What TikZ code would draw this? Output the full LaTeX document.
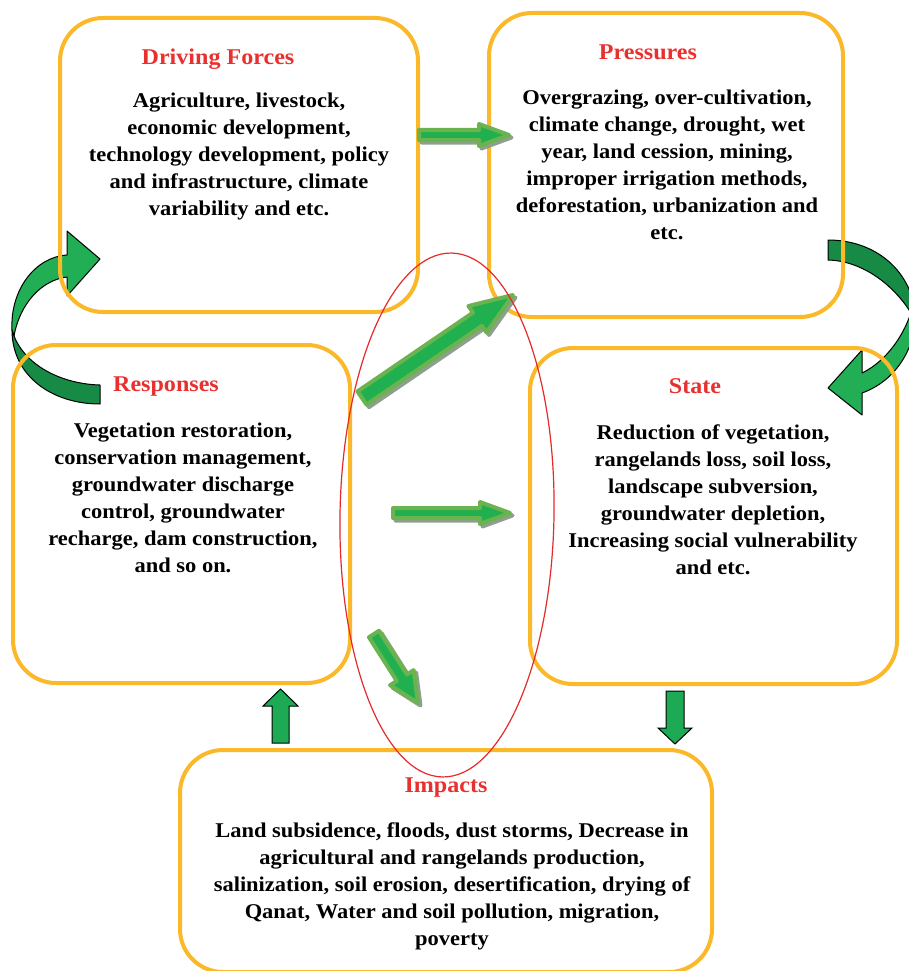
\documentclass[tikz,border=0pt]{standalone}
\usepackage{fontspec}
\setmainfont{Liberation Serif}[FakeStretch=1.07]
\usetikzlibrary{calc}

\definecolor{boxline}{HTML}{FBB829}
\definecolor{titlered}{HTML}{E8302E}
\definecolor{arrowfill}{HTML}{20B050}
\definecolor{arrowedge}{HTML}{6AB34F}
\definecolor{arrowshade}{HTML}{8F9F8F}
\definecolor{blockgreen}{HTML}{1EAA55}
\definecolor{curvedark}{HTML}{178A46}
\definecolor{curvelight}{HTML}{21AE55}
\definecolor{ringred}{HTML}{E42A2A}

% straight flow arrow with a soft shadow: #1 from, #2 to,
% #3 shaft half width, #4 head half width, #5 head length (all in pt)
\newcommand\greenflow[5]{%
  \path let \p1=($(#2)-(#1)$) in \pgfextra{%
    \pgfmathsetmacro\flowang{atan2(\y1,\x1)}%
    \pgfmathsetmacro\flowlen{veclen(\x1,\y1)}%
    \xdef\FlowAng{\flowang}\xdef\FlowLen{\flowlen}};
  \draw[draw=arrowshade, fill=arrowshade, line width=4pt, line join=round,
        shift={(#1)}, xshift=2.5pt, yshift=-2.5pt, rotate=\FlowAng]
    (0pt,#3pt) -- ({\FlowLen pt-#5pt},#3pt) -- ({\FlowLen pt-#5pt},#4pt)
    -- ({\FlowLen pt},0pt) -- ({\FlowLen pt-#5pt},-#4pt)
    -- ({\FlowLen pt-#5pt},-#3pt) -- (0pt,-#3pt) -- cycle;
  \draw[draw=arrowedge, fill=arrowfill, line width=4pt, line join=round,
        shift={(#1)}, rotate=\FlowAng]
    (0pt,#3pt) -- ({\FlowLen pt-#5pt},#3pt) -- ({\FlowLen pt-#5pt},#4pt)
    -- ({\FlowLen pt},0pt) -- ({\FlowLen pt-#5pt},-#4pt)
    -- ({\FlowLen pt-#5pt},-#3pt) -- (0pt,-#3pt) -- cycle;
}

\tikzset{
  panel/.style={draw=boxline, line width=4pt, rounded corners=43pt, inner sep=0pt},
  paneltitle/.style={text=titlered, font=\bfseries\fontsize{22.5}{27}\selectfont, inner sep=0pt, anchor=base},
  panelbody/.style={align=center, font=\bfseries\fontsize{21}{27}\selectfont, inner sep=0pt, anchor=north},
  blockarrow/.style={draw=black, line width=1pt, fill=blockgreen, line join=miter},
  curvedpart/.style={draw=black, line width=1pt, line join=round},
}

\begin{document}
\begin{tikzpicture}[x=1pt, y=-1pt]
\useasboundingbox (0,0) rectangle (909,971);

% curved feedback arrows (behind the panels)
\fill[curvelight, curvedpart]
  (12,330) .. controls (10,290) and (35,257) .. (67,255) -- (67,231) -- (100,259)
  -- (67,296) -- (67,277) .. controls (42,280) and (20,303) .. (14,336) -- cycle;
\fill[curvedark, curvedpart]
  (12,330) .. controls (12,376) and (52,404) .. (100,404) -- (100,385)
  .. controls (62,384) and (26,366) .. (14,336) -- cycle;
\fill[curvelight, curvedpart]
  (913,306) .. controls (905,336) and (885,362) .. (862,373) -- (862,350) -- (828,388)
  -- (862,415) -- (862,393) .. controls (895,381) and (912,352) .. (916,322) -- cycle;
\fill[curvedark, curvedpart]
  (828,240) .. controls (868,240) and (902,262) .. (913,300) -- (916,322)
  .. controls (900,290) and (866,261) .. (828,260) -- cycle;

% panels
\node[panel, minimum width=358pt, minimum height=294pt] (driving) at (239,165) {};
\node[panel, minimum width=354pt, minimum height=304pt] (pressures) at (666,165) {};
\node[panel, minimum width=337pt, minimum height=338pt] (responses) at (181.5,514) {};
\node[panel, minimum width=367pt, minimum height=336pt] (state) at (713.5,516) {};
\node[panel, minimum width=532pt, minimum height=222pt] (impacts) at (446,861) {};

% titles
\node[paneltitle] (drivingtitle) at (218,64.5) {Driving Forces};
\node[paneltitle] (pressurestitle) at (648,59.5) {Pressures};
\node[paneltitle] (responsestitle) at (166,391.5) {Responses};
\node[paneltitle] (statetitle) at (695,393.5) {State};
\node[paneltitle] (impactstitle) at (446,792.5) {Impacts};

% panel texts
\node[panelbody] (drivingtext) at (239,92.6) {Agriculture, livestock,\\economic development,\\technology development, policy\\and infrastructure, climate\\variability and etc.};
\node[panelbody] (pressurestext) at (667,89.6) {Overgrazing, over-cultivation,\\climate change, drought, wet\\year, land cession, mining,\\improper irrigation methods,\\deforestation, urbanization and\\etc.};
\node[panelbody] (responsestext) at (183,422.6) {Vegetation restoration,\\conservation management,\\groundwater discharge\\control, groundwater\\recharge, dam construction,\\and so on.};
\node[panelbody] (statetext) at (713,424.6) {Reduction of vegetation,\\rangelands loss, soil loss,\\landscape subversion,\\groundwater depletion,\\Increasing social vulnerability\\and etc.};
\node[panelbody] (impactstext) at (452,822.6) {Land subsidence, floods, dust storms, Decrease in\\agricultural and rangelands production,\\salinization, soil erosion, desertification, drying of\\Qanat, Water and soil pollution, migration,\\poverty};

% arrow end points between the panels
\coordinate (dpA) at (419,135);
\coordinate (dpB) at (509,135);
\coordinate (rpA) at (362,398);
\coordinate (rpB) at (513,295);
\coordinate (rsA) at (393,513);
\coordinate (rsB) at (510,513);
\coordinate (riA) at (374,634);
\coordinate (riB) at (418,703);

\greenflow{dpA}{dpB}{5}{11}{30}
\greenflow{rpA}{rpB}{8}{16}{43}
\greenflow{rsA}{rsB}{5}{11}{30}
\greenflow{riA}{riB}{6}{14}{30}

% block arrows between the lower panels
\coordinate (upBase) at (280.5,743);
\coordinate (downTop) at (675,691);
\draw[blockarrow] (upBase) ++(-8.5,0) -- ++(0,-37) -- ++(-9,0) -- ++(17.5,-17)
  -- ++(17.5,17) -- ++(-9,0) -- ++(0,37) -- cycle;
\draw[blockarrow] (downTop) ++(-9,0) -- ++(0,37) -- ++(-8,0) -- ++(17,16)
  -- ++(17,-16) -- ++(-8,0) -- ++(0,-37) -- cycle;

% grouping ring
\draw[ringred, line width=1.2pt, rotate around={-1:(447,515)}]
  (447,515) ellipse [x radius=107pt, y radius=262pt];
\end{tikzpicture}
\end{document}
